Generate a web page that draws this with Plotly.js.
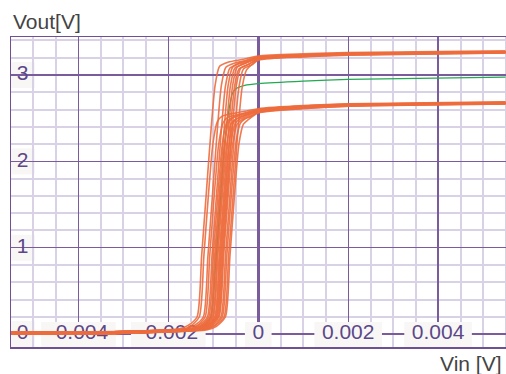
<!DOCTYPE html>
<html>
<head>
<meta charset="utf-8">
<script src="https://cdn.plot.ly/plotly-3.0.1.min.js"></script>
<style>
html,body{margin:0;padding:0;overflow:hidden;background:#fff;}
#chart{width:520px;height:374px;}
</style>
</head>
<body>
<div id="chart"></div>
<script>
// ---- tick labels ----
const xTickVals = [-0.004, -0.002, 0, 0.002, 0.004];
const xTickText = ['-0.004', '-0.002', '0', '0.002', '0.004'];
const yTickVals = [0, 1, 2, 3];
const yTickText = ['0', '1', '2', '3'];

// ---- upper-group curves (Vin, Vout) ----
const u1Vin  = [-0.0055,-0.003,-0.00176,-0.00156,-0.00136,-0.00126,-0.00116,-0.00106,-0.00096,-0.00086,-0.00066,-0.00036,0,0.001,0.002,0.0055];
const u1Vout = [0.025,0.03,0.06,0.1,0.2,0.9,1.6,2.3,2.88,3.1,3.15,3.18,3.22,3.245,3.26,3.28];
const u2Vin  = [-0.0055,-0.003,-0.00162,-0.00142,-0.00122,-0.00112,-0.00102,-0.00092,-0.00082,-0.00072,-0.00052,-0.00022,0,0.001,0.002,0.0055];
const u2Vout = [0.02,0.03,0.06,0.1,0.2,0.9,1.6,2.3,2.88,3.09,3.14,3.17,3.21,3.235,3.25,3.27];
const u3Vin  = [-0.0055,-0.003,-0.00153,-0.00133,-0.00113,-0.00103,-0.00093,-0.00083,-0.00073,-0.00063,-0.00043,-0.00013,0,0.001,0.002,0.0055];
const u3Vout = [0.025,0.03,0.06,0.1,0.2,0.9,1.6,2.3,2.87,3.08,3.13,3.17,3.2,3.23,3.245,3.265];
const u4Vin  = [-0.0055,-0.003,-0.00147,-0.00127,-0.00107,-0.00097,-0.00087,-0.00077,-0.00067,-0.00057,-0.00037,0,0.001,0.002,0.0055];
const u4Vout = [0.02,0.03,0.06,0.1,0.2,0.9,1.6,2.3,2.88,3.09,3.15,3.21,3.235,3.25,3.27];
const u5Vin  = [-0.0055,-0.003,-0.00142,-0.00122,-0.00102,-0.00092,-0.00082,-0.00072,-0.00062,-0.00052,-0.00032,0,0.001,0.002,0.0055];
const u5Vout = [0.025,0.03,0.06,0.1,0.2,0.9,1.6,2.3,2.87,3.08,3.13,3.19,3.22,3.24,3.26];
const u6Vin  = [-0.0055,-0.003,-0.00137,-0.00117,-0.00097,-0.00087,-0.00077,-0.00067,-0.00057,-0.00047,-0.00027,0,0.001,0.002,0.0055];
const u6Vout = [0.02,0.03,0.06,0.1,0.2,0.9,1.6,2.3,2.88,3.09,3.14,3.2,3.23,3.25,3.27];
const u7Vin  = [-0.0055,-0.003,-0.00133,-0.00113,-0.00093,-0.00083,-0.00073,-0.00063,-0.00053,-0.00043,-0.00023,0,0.001,0.002,0.0055];
const u7Vout = [0.025,0.03,0.06,0.1,0.2,0.9,1.6,2.3,2.86,3.07,3.12,3.18,3.215,3.235,3.255];
const u8Vin  = [-0.0055,-0.003,-0.00129,-0.00109,-0.00089,-0.00079,-0.00069,-0.00059,-0.00049,-0.00039,-0.00019,0,0.001,0.002,0.0055];
const u8Vout = [0.02,0.03,0.06,0.1,0.2,0.9,1.6,2.3,2.87,3.08,3.13,3.19,3.225,3.245,3.265];
const u9Vin  = [-0.0055,-0.003,-0.00123,-0.00103,-0.00083,-0.00073,-0.00063,-0.00053,-0.00043,-0.00033,-0.00013,0,0.001,0.002,0.0055];
const u9Vout = [0.025,0.03,0.06,0.1,0.2,0.9,1.6,2.3,2.86,3.07,3.12,3.18,3.215,3.235,3.26];
const u10Vin = [-0.0055,-0.003,-0.00116,-0.00096,-0.00076,-0.00066,-0.00056,-0.00046,-0.00036,-0.00026,0,0.001,0.002,0.0055];
const u10Vout= [0.02,0.03,0.06,0.1,0.2,0.9,1.6,2.3,2.85,3.06,3.17,3.21,3.23,3.255];

// ---- lower-group curves (Vin, Vout) ----
const l1Vin  = [-0.0055,-0.003,-0.00171,-0.00151,-0.00131,-0.00121,-0.00111,-0.00101,-0.00091,-0.00081,-0.00061,-0.00031,0,0.001,0.002,0.0055];
const l1Vout = [0,0.01,0.05,0.09,0.2,0.9,1.6,2.2,2.46,2.52,2.55,2.58,2.61,2.645,2.665,2.69];
const l2Vin  = [-0.0055,-0.003,-0.00158,-0.00138,-0.00118,-0.00108,-0.00098,-0.00088,-0.00078,-0.00068,-0.00048,-0.00018,0,0.001,0.002,0.0055];
const l2Vout = [0.005,0.01,0.05,0.09,0.2,0.9,1.6,2.2,2.45,2.51,2.54,2.57,2.6,2.64,2.66,2.68];
const l3Vin  = [-0.0055,-0.003,-0.0015,-0.0013,-0.0011,-0.001,-0.0009,-0.0008,-0.0007,-0.0006,-0.0004,-0.0001,0,0.001,0.002,0.0055];
const l3Vout = [0,0.01,0.05,0.09,0.2,0.9,1.6,2.2,2.45,2.5,2.53,2.57,2.59,2.63,2.655,2.675];
const l4Vin  = [-0.0055,-0.003,-0.00145,-0.00125,-0.00105,-0.00095,-0.00085,-0.00075,-0.00065,-0.00055,-0.00035,0,0.001,0.002,0.0055];
const l4Vout = [0.005,0.01,0.05,0.09,0.2,0.9,1.6,2.2,2.46,2.51,2.55,2.6,2.64,2.66,2.685];
const l5Vin  = [-0.0055,-0.003,-0.0014,-0.0012,-0.001,-0.0009,-0.0008,-0.0007,-0.0006,-0.0005,-0.0003,0,0.001,0.002,0.0055];
const l5Vout = [0,0.01,0.05,0.09,0.2,0.9,1.6,2.2,2.44,2.49,2.53,2.58,2.625,2.65,2.67];
const l6Vin  = [-0.0055,-0.003,-0.00135,-0.00115,-0.00095,-0.00085,-0.00075,-0.00065,-0.00055,-0.00045,-0.00025,0,0.001,0.002,0.0055];
const l6Vout = [0.005,0.01,0.05,0.09,0.2,0.9,1.6,2.2,2.45,2.5,2.54,2.59,2.63,2.655,2.68];
const l7Vin  = [-0.0055,-0.003,-0.00131,-0.00111,-0.00091,-0.00081,-0.00071,-0.00061,-0.00051,-0.00041,-0.00021,0,0.001,0.002,0.0055];
const l7Vout = [0,0.01,0.05,0.09,0.2,0.9,1.6,2.2,2.44,2.49,2.53,2.58,2.62,2.645,2.67];
const l8Vin  = [-0.0055,-0.003,-0.00127,-0.00107,-0.00087,-0.00077,-0.00067,-0.00057,-0.00047,-0.00037,-0.00017,0,0.001,0.002,0.0055];
const l8Vout = [0.005,0.01,0.05,0.09,0.2,0.9,1.6,2.2,2.43,2.48,2.52,2.57,2.615,2.64,2.665];
const l9Vin  = [-0.0055,-0.003,-0.0012,-0.001,-0.0008,-0.0007,-0.0006,-0.0005,-0.0004,-0.0003,-0.0001,0,0.001,0.002,0.0055];
const l9Vout = [0,0.01,0.05,0.09,0.2,0.9,1.6,2.2,2.44,2.49,2.54,2.57,2.62,2.645,2.67];
const l10Vin = [-0.0055,-0.003,-0.00113,-0.00093,-0.00073,-0.00063,-0.00053,-0.00043,-0.00033,-0.00023,0,0.001,0.002,0.0055];
const l10Vout= [0.005,0.01,0.05,0.09,0.2,0.9,1.6,2.2,2.43,2.48,2.56,2.61,2.64,2.665];

// ---- nominal (green) curve ----
const nomVin  = [-0.0055,-0.003,-0.0015,-0.0012,-0.00105,-0.00095,-0.00085,-0.00075,-0.00065,-0.00058,-0.0005,-0.0003,0,0.001,0.002,0.0055];
const nomVout = [0.01,0.02,0.05,0.1,0.2,0.8,1.5,2.2,2.6,2.78,2.84,2.88,2.9,2.93,2.95,2.975];

const orangeCurves = [
  [u1Vin,u1Vout],[u2Vin,u2Vout],[u3Vin,u3Vout],[u4Vin,u4Vout],[u5Vin,u5Vout],
  [u6Vin,u6Vout],[u7Vin,u7Vout],[u8Vin,u8Vout],[u9Vin,u9Vout],[u10Vin,u10Vout],
  [l1Vin,l1Vout],[l2Vin,l2Vout],[l3Vin,l3Vout],[l4Vin,l4Vout],[l5Vin,l5Vout],
  [l6Vin,l6Vout],[l7Vin,l7Vout],[l8Vin,l8Vout],[l9Vin,l9Vout],[l10Vin,l10Vout]
];

// ---- styles ----
const FONT = 'Liberation Sans, Arial, sans-serif';
const TICK_COLOR = '#5b478a';
const MAJOR = '#7a5c9c';
const MINOR = '#d9d2e7';
const BOX = '#f8f7f5';
const ORANGE = '#ee6c3d';
const GREEN = '#23a853';
const xRange = [-0.0055, 0.0056];
const yRange = [-0.15, 3.44];
const yLabelX = -0.00524;

function labelWidth(s){
  let w = 0;
  for (const c of s){ w += (c === '.') ? 5.8 : (c === '-') ? 7 : 11.7; }
  return w + 15;
}

const traces = [];
// tick label texts (drawn first so curves pass over them)
traces.push({
  type:'scatter', mode:'text', x:xTickVals, y:xTickVals.map(()=>0), text:xTickText,
  textposition:'middle center', textfont:{family:FONT,size:21,color:TICK_COLOR},
  hoverinfo:'skip', showlegend:false, cliponaxis:false
});
traces.push({
  type:'scatter', mode:'text', x:yTickVals.map(()=>yLabelX), y:yTickVals, text:yTickText,
  textposition:'middle center', textfont:{family:FONT,size:21,color:TICK_COLOR},
  hoverinfo:'skip', showlegend:false, cliponaxis:false
});
traces.push({
  type:'scatter', mode:'lines', x:nomVin, y:nomVout,
  line:{color:GREEN, width:1.2, shape:'spline', smoothing:0.6},
  hoverinfo:'skip', showlegend:false
});
orangeCurves.forEach(c => traces.push({
  type:'scatter', mode:'lines', x:c[0], y:c[1],
  line:{color:ORANGE, width:1.6, shape:'spline', smoothing:0.6},
  opacity:0.9, hoverinfo:'skip', showlegend:false
}));

const shapes = [];
xTickText.forEach((t,i) => {
  const w = labelWidth(t);
  shapes.push({type:'rect', layer:'between', xref:'x', yref:'y',
    xsizemode:'pixel', xanchor:xTickVals[i], x0:-w/2, x1:w/2,
    ysizemode:'pixel', yanchor:0, y0:-13, y1:12,
    fillcolor:BOX, line:{width:0}});
});
yTickVals.forEach(v => {
  shapes.push({type:'rect', layer:'between', xref:'paper', yref:'y',
    xsizemode:'pixel', xanchor:0, x0:0, x1:24,
    ysizemode:'pixel', yanchor:v, y0:-13, y1:13,
    fillcolor:BOX, line:{width:0}});
});

const layout = {
  width:520, height:374,
  margin:{l:11, r:10, t:37, b:27},
  paper_bgcolor:'#ffffff', plot_bgcolor:'#ffffff',
  showlegend:false,
  font:{family:FONT},
  xaxis:{
    range:xRange, tick0:0, dtick:0.002, showticklabels:false, ticks:'',
    showgrid:true, gridcolor:MAJOR, gridwidth:1.3,
    minor:{dtick:0.0005, showgrid:true, gridcolor:MINOR, gridwidth:2},
    zeroline:true, zerolinecolor:MAJOR, zerolinewidth:3,
    showline:true, mirror:true, linecolor:'#6e5192', linewidth:1.5
  },
  yaxis:{
    range:yRange, tick0:0, dtick:1, showticklabels:false, ticks:'',
    showgrid:true, gridcolor:MAJOR, gridwidth:1.3,
    minor:{dtick:0.2, showgrid:true, gridcolor:MINOR, gridwidth:2},
    zeroline:true, zerolinecolor:MAJOR, zerolinewidth:2,
    showline:true, mirror:true, linecolor:'#6e5192', linewidth:1.5
  },
  shapes:shapes,
  annotations:[
    {text:'Vout[V]', xref:'paper', yref:'paper', x:0, y:1, xanchor:'left', yanchor:'bottom',
     yshift:2, showarrow:false, font:{family:FONT, size:21, color:'#444444'}},
    {text:'Vin [V]', xref:'paper', yref:'paper', x:0.986, y:0, xanchor:'right', yanchor:'top',
     yshift:-3, showarrow:false, font:{family:FONT, size:21, color:'#444444'}}
  ]
};

Plotly.newPlot('chart', traces, layout, {displayModeBar:false, staticPlot:true});
</script>
</body>
</html>
